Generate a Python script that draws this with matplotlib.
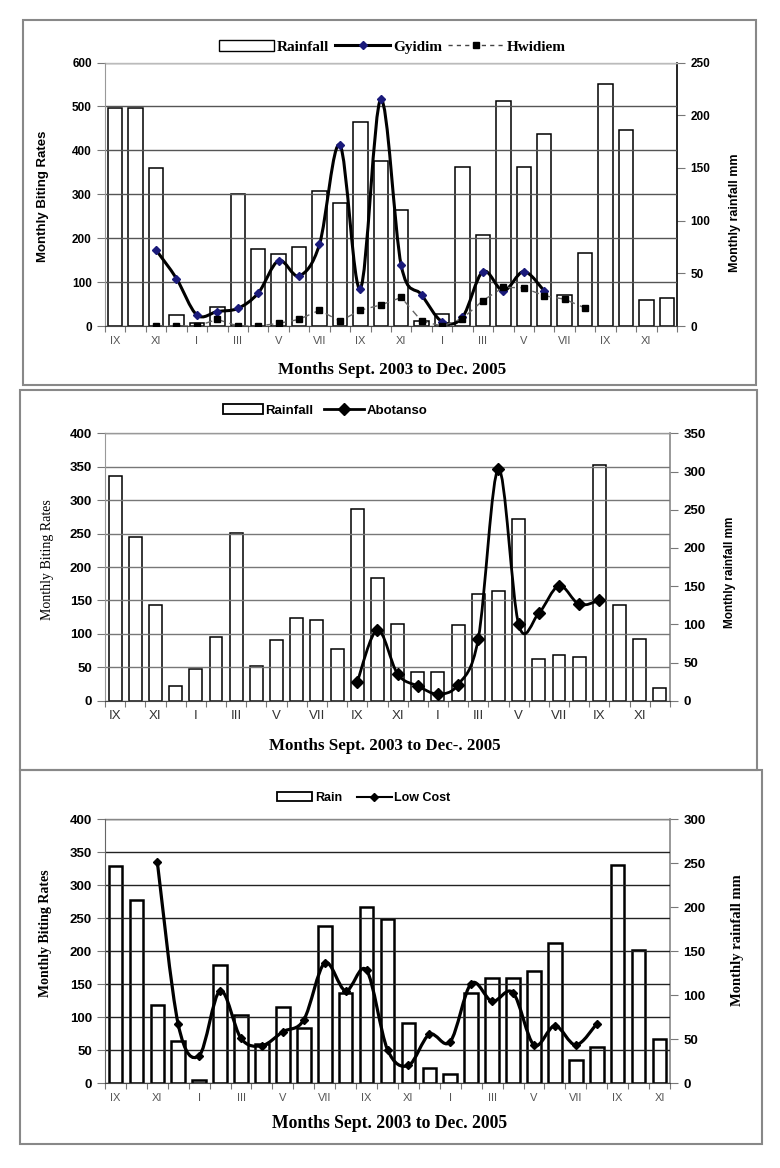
import matplotlib.pyplot as plt
import numpy as np
from matplotlib.path import Path
from matplotlib.patches import PathPatch, Rectangle
from matplotlib.lines import Line2D

nan = np.nan

# month labels (every second month is shown)
tick_labels = ['IX', 'XI', 'I', 'III', 'V', 'VII', 'IX', 'XI', 'I', 'III', 'V', 'VII', 'IX', 'XI']

# panel 1: Sept 2003 - Dec 2005 (28 months)
rain_1 = [207, 207, 150, 10, 3, 18, 125, 73, 68, 75, 128, 117, 194, 157,
          110, 5, 11, 151, 86, 213, 151, 182, 29, 69, 230, 186, 25, 27]
gyidim = [nan, nan, 173, 108, 25, 33, 40, 75, 149, 114, 186, 412, 85, 516,
          138, 71, 10, 20, 124, 80, 124, 80, nan, nan, nan, nan, nan, nan]
hwidiem = [nan, nan, 0, 0, 0, 15, 0, 0, 6, 15, 36, 11, 36, 48,
           65, 11, 0, 17, 58, 88, 87, 69, 61, 41, nan, nan, nan, nan]

# panel 2: 28 months
rain_2 = [294, 214, 125, 19, 42, 83, 219, 45, 80, 108, 106, 68, 251, 160,
          100, 37, 38, 99, 140, 144, 238, 55, 60, 57, 309, 125, 81, 16]
abotanso = [nan] * 12 + [28, 106, 40, 22, 10, 24, 93, 347, 114, 131, 172, 144, 150] + [nan] * 3

# panel 3: Sept 2003 - Nov 2005 (27 months)
rain_3 = [247, 208, 89, 48, 4, 134, 77, 45, 87, 63, 179, 102, 200, 186,
          69, 17, 11, 102, 119, 119, 127, 159, 26, 41, 248, 151, 50]
low_cost = [nan, nan, 335, 89, 42, 140, 68, 57, 78, 96, 182, 140, 171, 51,
            27, 74, 63, 151, 124, 137, 58, 87, 58, 90, nan, nan, nan]

W, H = 780, 1168
plt.rcParams['font.family'] = ['Liberation Sans', 'DejaVu Sans']


def box(l, t, r, b):
    return [l / W, 1 - b / H, (r - l) / W, (b - t) / H]


def smooth_path(x, y):
    # excel-like smoothed line: bezier segments through the data points
    x = np.asarray(x, float)
    y = np.asarray(y, float)
    ok = ~np.isnan(y)
    pts = np.column_stack([x[ok], y[ok]])
    n = len(pts)
    verts = [pts[0]]
    codes = [Path.MOVETO]
    for i in range(n - 1):
        p0 = pts[max(i - 1, 0)]
        p1 = pts[i]
        p2 = pts[i + 1]
        p3 = pts[min(i + 2, n - 1)]
        verts += [p1 + (p2 - p0) / 6, p2 - (p3 - p1) / 6, p2]
        codes += [Path.CURVE4] * 3
    return Path(verts, codes)


def make_panel(pos, rain, ymax, ystep, rmax, bar_w, grid_col, top_col, left_col, right_col,
               tick_fs, xfs=8, xcol='#555555'):
    n = len(rain)
    x = np.arange(n)
    ax = fig.add_axes(pos)
    ax2 = ax.twinx()
    ax.set_zorder(ax2.get_zorder() + 1)
    ax.patch.set_visible(False)
    ax2.bar(x, rain, width=bar_w, facecolor='white', edgecolor='black', linewidth=1.1)
    ax.set_xlim(-0.5, n - 0.5)
    ax.set_ylim(0, ymax)
    ax2.set_ylim(0, rmax)
    ax.set_yticks(np.arange(0, ymax + 1, ystep))
    ax2.set_yticks(np.arange(0, rmax + 1, 50))
    ax.grid(axis='y', color=grid_col, linewidth=1.0)
    ax.axhline(ymax, color=top_col, linewidth=1.0, clip_on=False)
    # boundaries between months as ticks, labels at every second month
    ax.set_xticks(np.arange(-0.5, n, 1.0))
    ax.set_xticklabels([])
    ax.set_xticks(x[::2], minor=True)
    ax.set_xticklabels(tick_labels[:len(x[::2])], minor=True)
    ax.tick_params(axis='x', which='major', length=4, color='#777777')
    ax.tick_params(axis='x', which='minor', length=0, pad=7, labelsize=xfs, labelcolor=xcol)
    ax.tick_params(axis='y', length=6, color='#777777', labelsize=tick_fs)
    ax2.tick_params(axis='y', length=6, color='#777777', labelsize=tick_fs)
    for lab in ax.get_yticklabels() + ax2.get_yticklabels():
        lab.set_fontweight('bold')
    for a in (ax, ax2):
        a.spines['top'].set_visible(False)
    ax2.spines['left'].set_visible(False)
    ax2.spines['bottom'].set_visible(False)
    ax.spines['right'].set_visible(False)
    ax.spines['left'].set_color(left_col)
    ax.spines['bottom'].set_color('#444444')
    ax2.spines['right'].set_color(right_col)
    ax2.spines['right'].set_linewidth(1.2)
    return ax, ax2, x


def frame(l, t, r, b):
    fig.add_artist(Rectangle((l / W, 1 - b / H), (r - l) / W, (b - t) / H,
                             transform=fig.transFigure, fill=False,
                             edgecolor='#888888', linewidth=1.5))


def ftext(px, py, s, **kw):
    fig.text(px / W, 1 - py / H, s, ha='center', va='center', **kw)


fig = plt.figure(figsize=(7.8, 11.68), dpi=100)
fig.patch.set_facecolor('white')

frame(23, 20, 756, 385)
frame(20, 390, 757, 770)
frame(20, 770, 762, 1144)

serif = ['Liberation Serif', 'DejaVu Serif']

# ---------------- panel 1 ----------------
ax, ax2, x = make_panel(box(105, 62.5, 677, 326), rain_1, 600, 100, 250, 0.7,
                        '#555555', '#bbbbbb', '#999999', 'black', 8.5)
ax.add_patch(PathPatch(smooth_path(x, gyidim), fill=False, edgecolor='black', linewidth=2.2, zorder=3))
ax.plot(x, gyidim, linestyle='none', marker='D', markersize=4, color='#1a1a7a', zorder=4)
ax.plot(x, hwidiem, linestyle=(0, (5, 4)), linewidth=1.0, color='#666666',
        marker='s', markersize=5, markerfacecolor='black', markeredgecolor='black', zorder=4)
h_rain = Rectangle((0, 0), 1, 1, facecolor='white', edgecolor='black', linewidth=1)
h_gy = Line2D([], [], color='black', linewidth=2.2, marker='D', markersize=4,
              markerfacecolor='#1a1a7a', markeredgecolor='#1a1a7a')
h_hw = Line2D([], [], color='#444444', linestyle=(0, (3, 3)), linewidth=1,
              marker='s', markersize=4.5, markerfacecolor='black', markeredgecolor='black')
fig.legend([h_rain, h_gy, h_hw], ['Rainfall', 'Gyidim', 'Hwidiem'], loc='center',
           bbox_to_anchor=(392 / W, 1 - 47 / H), ncol=3, frameon=False,
           handlelength=3.6, handletextpad=0.2, columnspacing=0.4,
           prop={'family': serif, 'weight': 'bold', 'size': 11})
ftext(43, 196, 'Monthly Biting Rates', rotation=90, fontsize=9.5, fontweight='bold')
ftext(735, 213, 'Monthly rainfall mm', rotation=90, fontsize=9, fontweight='bold')
ftext(392, 370, 'Months Sept. 2003 to Dec. 2005', fontsize=12.3, fontweight='bold', family=serif)

# ---------------- panel 2 ----------------
ax, ax2, x = make_panel(box(105, 433.3, 670, 700.7), rain_2, 400, 50, 350, 0.64,
                        '#777777', '#999999', '#999999', '#888888', 9.5, xfs=9.5, xcol='#333333')
ax.add_patch(PathPatch(smooth_path(x, abotanso), fill=False, edgecolor='black', linewidth=2.0, zorder=3))
ax.plot(x, abotanso, linestyle='none', marker='D', markersize=6.5, color='black', zorder=4)
h_rain = Rectangle((0, 0), 1, 1, facecolor='white', edgecolor='black', linewidth=1.3)
h_ab = Line2D([], [], color='black', linewidth=2, marker='D', markersize=6)
fig.legend([h_rain, h_ab], ['Rainfall', 'Abotanso'], loc='center',
           bbox_to_anchor=(325 / W, 1 - 410.5 / H), ncol=2, frameon=False,
           handlelength=3.0, handletextpad=0.2, columnspacing=0.8,
           prop={'weight': 'bold', 'size': 9.5})
ftext(48, 560, 'Monthly Biting Rates', rotation=90, fontsize=10, family=serif)
ftext(730, 572, 'Monthly rainfall mm', rotation=90, fontsize=8.5, fontweight='bold')
ftext(385, 746, 'Months Sept. 2003 to Dec-. 2005', fontsize=12.2, fontweight='bold', family=serif)

# ---------------- panel 3 ----------------
ax, ax2, x = make_panel(box(105, 819, 670, 1083.3), rain_3, 400, 50, 300, 0.65,
                        '#222222', '#888888', '#666666', '#888888', 9.5)
for r in ax2.patches:
    r.set_linewidth(1.8)
ax.add_patch(PathPatch(smooth_path(x, low_cost), fill=False, edgecolor='black', linewidth=2.3, zorder=3))
ax.plot(x, low_cost, linestyle='none', marker='D', markersize=4.5, color='black', zorder=4)
h_rain = Rectangle((0, 0), 1, 1, facecolor='white', edgecolor='black', linewidth=1.3)
h_lc = Line2D([], [], color='black', linewidth=1.5, marker='D', markersize=4)
fig.legend([h_rain, h_lc], ['Rain', 'Low Cost'], loc='center',
           bbox_to_anchor=(364 / W, 1 - 798 / H), ncol=2, frameon=False,
           handlelength=2.8, handletextpad=0.2, columnspacing=1.2,
           prop={'weight': 'bold', 'size': 9})
ftext(45, 933, 'Monthly Biting Rates', rotation=90, fontsize=10, fontweight='bold', family=serif)
ftext(737, 940, 'Monthly rainfall mm', rotation=90, fontsize=10.5, fontweight='bold', family=serif)
ftext(390, 1124, 'Months Sept. 2003 to Dec. 2005', fontsize=12.7, fontweight='bold', family=serif)

fig.savefig('out.png', dpi=100, facecolor='white')
